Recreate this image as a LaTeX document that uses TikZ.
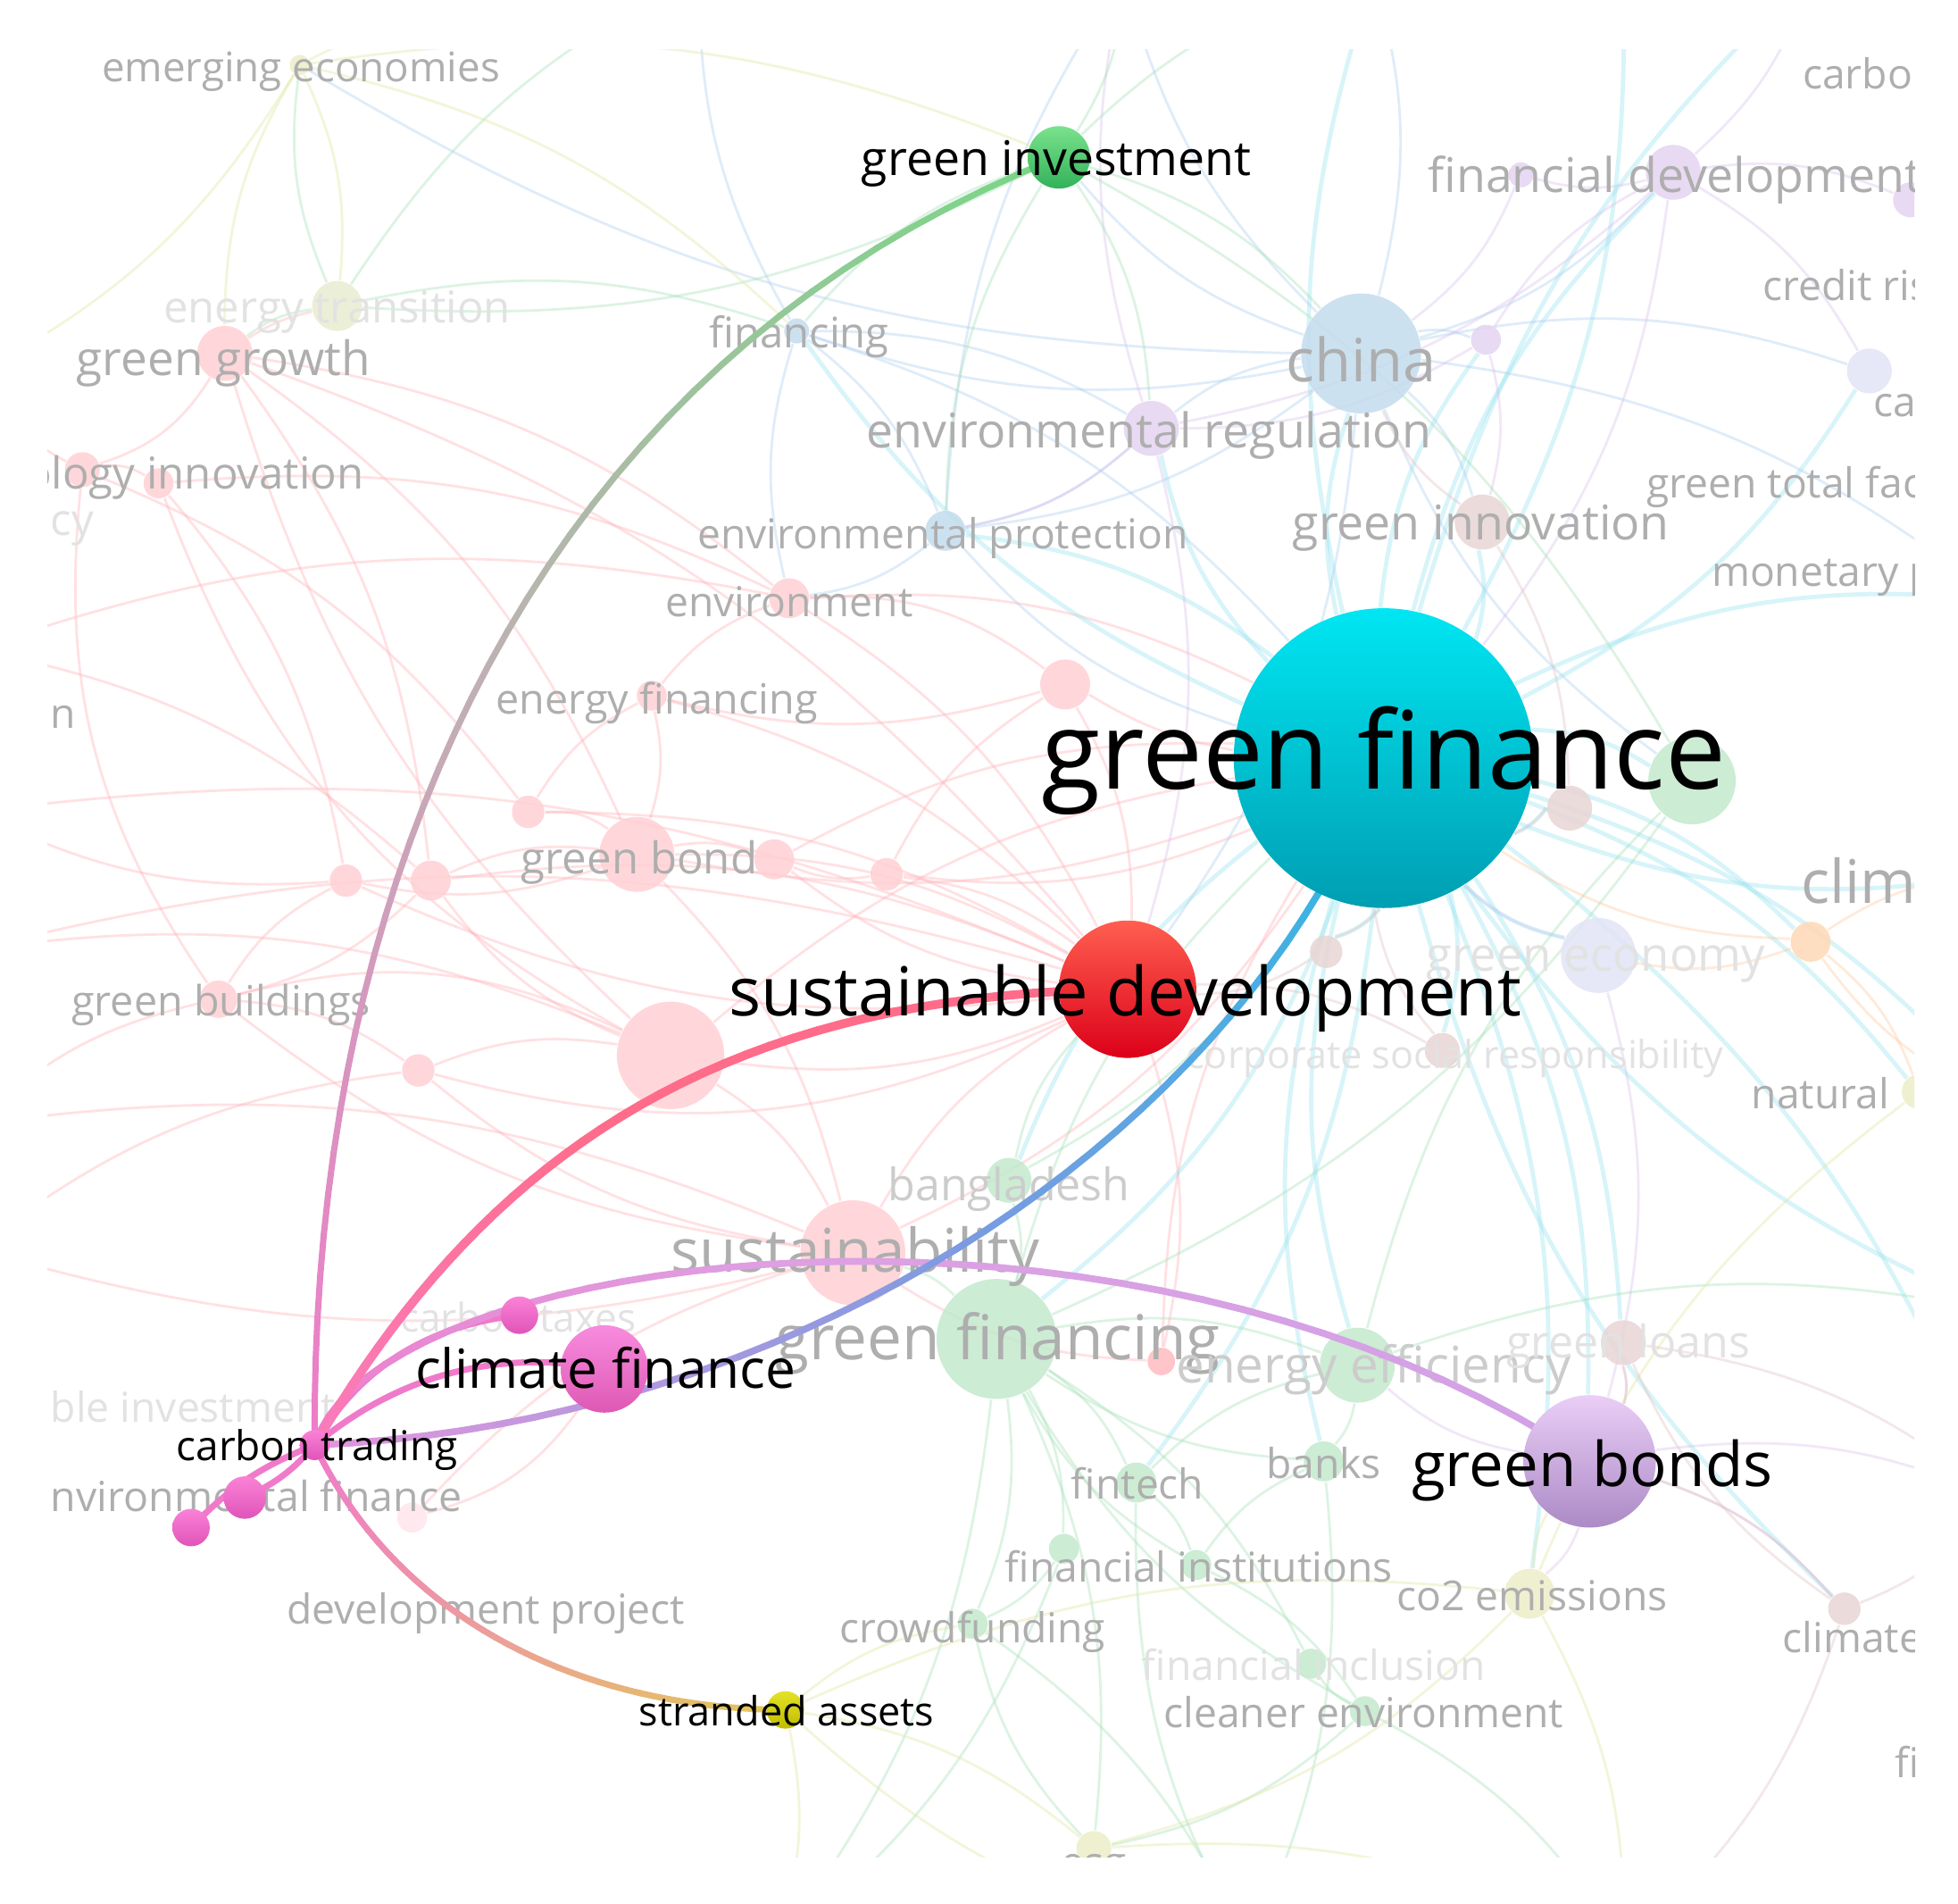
\documentclass[tikz,border=0pt]{standalone}
\usepackage{fontspec}
\setmainfont{Open Sans}
\pgfdeclarelayer{paper}
\pgfdeclarelayer{bgedge}
\pgfdeclarelayer{bgnode}
\pgfdeclarelayer{hledge}
\pgfsetlayers{paper,bgedge,bgnode,hledge,main}

\definecolor{labgray}{RGB}{174,174,174}
\definecolor{labmid}{RGB}{204,204,204}
\definecolor{labfaint}{RGB}{226,226,226}
\definecolor{nPink}{RGB}{255,208,212}
\definecolor{nPinkL}{RGB}{255,228,236}
\definecolor{nRed}{RGB}{255,188,192}
\definecolor{nBlue}{RGB}{196,220,238}
\definecolor{nPurp}{RGB}{228,212,240}
\definecolor{nGreen}{RGB}{196,233,205}
\definecolor{nYel}{RGB}{236,238,200}
\definecolor{nYG}{RGB}{232,237,208}
\definecolor{nBrown}{RGB}{232,213,213}
\definecolor{nOr}{RGB}{255,216,182}
\definecolor{nLav}{RGB}{226,228,246}
\definecolor{ePink}{RGB}{255,178,184}
\definecolor{eCyan}{RGB}{150,228,240}
\definecolor{eBlue}{RGB}{172,206,240}
\definecolor{ePurp}{RGB}{216,192,236}
\definecolor{eGreen}{RGB}{165,225,182}
\definecolor{eYel}{RGB}{226,230,160}
\definecolor{eBrown}{RGB}{226,192,192}
\definecolor{eOr}{RGB}{255,200,160}
\definecolor{hPink}{RGB}{240,122,202}
\definecolor{hPinkR}{RGB}{250,125,190}
\definecolor{hRose}{RGB}{255,108,138}
\definecolor{hGray}{RGB}{192,176,180}
\definecolor{hGreen}{RGB}{122,214,134}
\definecolor{hPinkL}{RGB}{230,150,220}
\definecolor{hBlue}{RGB}{122,155,225}
\definecolor{hCyan}{RGB}{42,186,226}
\definecolor{hLav}{RGB}{222,160,226}
\definecolor{hLav2}{RGB}{210,162,230}
\definecolor{hSalmon}{RGB}{236,160,152}
\definecolor{hGold}{RGB}{226,200,88}

\tikzset{
  bub/.style={circle, inner sep=0pt, minimum size=#1},
  lab/.style={text=labgray, inner sep=0pt, anchor=mid},
  labw/.style={lab, anchor=mid west},
  labe/.style={lab, anchor=mid east},
  faint/.style={text=labfaint},
  midf/.style={text=labmid},
  fs/.style={font={\fontsize{#1}{#1}\selectfont}},
  bge/.style={line width=0.2mm, draw opacity=0.38},
  cye/.style={line width=0.34mm, draw opacity=0.38},
  hl/.style={line width=0.5mm, line cap=round},
  hlab/.style={text=black, inner sep=0pt, anchor=mid},
}

\newcommand\clipframe{\clip (38,40) rectangle (1533,1487);}

% gradient curve: #1 from, #2 ctrl1, #3 ctrl2, #4 to, #5 #6 #7 colours, #8 width
\newcommand\gradcurve[8]{%
  \path (#1) .. controls #2 and #3 .. (#4)
    foreach \k [evaluate=\k as \tpos using \k/40] in {0,...,40} {coordinate[pos=\tpos] (gq\k)};
  \foreach \k in {1,...,40}{%
    \pgfmathtruncatemacro\kp{\k-1}%
    \ifnum\k<21
      \pgfmathtruncatemacro\pc{100-5*\k}%
      \colorlet{segc}{#5!\pc!#6}%
    \else
      \pgfmathtruncatemacro\pc{100-5*(\k-20)}%
      \colorlet{segc}{#6!\pc!#7}%
    \fi
    \draw[line width=#8, line cap=round, segc] (gq\kp) -- (gq\k);
  }%
}

\begin{document}
\begin{tikzpicture}[x=0.1mm, y=-0.1mm]
\useasboundingbox (0,0) rectangle (1568,1524);
\begin{pgfonlayer}{paper}
\fill[white] (0,0) rectangle (1568,1524);
\end{pgfonlayer}

% ---------- off-frame coordinates ----------
\coordinate (L1) at (-20,520);  \coordinate (L2) at (-20,650);
\coordinate (L3) at (-20,900);  \coordinate (L4) at (-20,1000);
\coordinate (L5) at (-20,300);  \coordinate (L6) at (-20,760);
\coordinate (R1) at (1600,480); \coordinate (R2) at (1600,700);
\coordinate (R3) at (1600,880); \coordinate (R4) at (1600,1050);
\coordinate (R5) at (1600,1200);
\coordinate (T1) at (560,-20);  \coordinate (T2) at (900,-20);
\coordinate (T3) at (1100,-20); \coordinate (T4) at (1300,-20);
\coordinate (T5) at (1450,-20);
\coordinate (B1) at (620,1560); \coordinate (B2) at (1000,1560);
\coordinate (B3) at (1300,1560);

% ---------- background nodes and labels ----------
\begin{pgfonlayer}{bgnode}
\begin{scope}
\clipframe
\begin{scope}[fill opacity=0.85]
\node[bub=1.6mm, fill=nYel]   (ee)   at (240,52)  {};
\node[bub=4mm,   fill=nYG]    (et)   at (270,245) {};
\node[bub=4.4mm, fill=nPink]  (gg)   at (180,283) {};
\node[bub=2mm,   fill=nBlue]  (fin)  at (638,265) {};
\node[bub=9.6mm, fill=nBlue]  (chn)  at (1090,283) {};
\node[bub=2.4mm, fill=nPurp]  (pp1)  at (1190,272) {};
\node[bub=4.4mm, fill=nPurp]  (fd)   at (1340,138) {};
\node[bub=2mm,   fill=nPurp]  (fd2)  at (1218,140) {};
\node[bub=2.8mm, fill=nPurp]  (fd3)  at (1530,160) {};
\node[bub=3.6mm, fill=nLav]   (crd)  at (1497,297) {};
\node[bub=4.4mm, fill=nPurp]  (er)   at (922,343) {};
\node[bub=2.8mm, fill=nPink]  (ti1)  at (66,376) {};
\node[bub=2.4mm, fill=nPink]  (ti2)  at (127,387) {};
\node[bub=3.2mm, fill=nBlue]  (ep)   at (757,425) {};
\node[bub=4.4mm, fill=nBrown] (ginn) at (1187,418) {};
\node[bub=3.2mm, fill=nPink]  (env)  at (632,479) {};
\node[bub=2.4mm, fill=nPink]  (enfi) at (522,557) {};
\node[bub=4mm,   fill=nPink]  (pk1)  at (853,548) {};
\node[bub=6mm,   fill=nPink]  (gb1)  at (510,684) {};
\node[bub=3.2mm, fill=nPink]  (gb2)  at (620,688) {};
\node[bub=2.6mm, fill=nPink]  (gb3)  at (423,650) {};
\node[bub=2.6mm, fill=nPink]  (gb4)  at (710,700) {};
\node[bub=3.2mm, fill=nPink]  (gb5)  at (345,705) {};
\node[bub=2.6mm, fill=nPink]  (gb6)  at (277,705) {};
\node[bub=7mm,   fill=nGreen] (gn)   at (1355,625) {};
\node[bub=3.6mm, fill=nBrown] (br1)  at (1257,647) {};
\node[bub=6mm,   fill=nLav]   (ge)   at (1280,765) {};
\node[bub=2.6mm, fill=nBrown] (br2)  at (1062,762) {};
\node[bub=3.2mm, fill=nOr]    (or1)  at (1450,754) {};
\node[bub=2.8mm, fill=nBrown] (csr)  at (1155,841) {};
\node[bub=2.8mm, fill=nYel]   (nat)  at (1537,874) {};
\node[bub=3mm,   fill=nPink]  (gbld) at (175,800) {};
\node[bub=8.6mm, fill=nPink]  (bp)   at (537,845) {};
\node[bub=2.6mm, fill=nPink]  (pk2)  at (335,857) {};
\node[bub=3.6mm, fill=nGreen] (bgd)  at (808,945) {};
\node[bub=8.4mm, fill=nPink]  (sus)  at (683,1003) {};
\node[bub=9.6mm, fill=nGreen] (gfg)  at (798,1072) {};
\node[bub=6mm,   fill=nGreen] (eef)  at (1087,1093) {};
\node[bub=2.2mm, fill=nRed]   (rd1)  at (930,1090) {};
\node[bub=3.6mm, fill=nBrown] (gl)   at (1300,1075) {};
\node[bub=2.4mm, fill=nPinkL] (enf3) at (330,1215) {};
\node[bub=3.2mm, fill=nGreen] (ft)   at (910,1187) {};
\node[bub=3.2mm, fill=nGreen] (bk)   at (1060,1170) {};
\node[bub=2.4mm, fill=nGreen] (fi1)  at (852,1240) {};
\node[bub=2.4mm, fill=nGreen] (fi2)  at (958,1253) {};
\node[bub=4mm,   fill=nYel]   (co2)  at (1225,1276) {};
\node[bub=2.6mm, fill=nBrown] (clm)  at (1477,1288) {};
\node[bub=2.4mm, fill=nGreen] (crf)  at (779,1300) {};
\node[bub=2.4mm, fill=nGreen] (fincl) at (1050,1332) {};
\node[bub=2.4mm, fill=nGreen] (ce)   at (1093,1370) {};
\node[bub=2.8mm, fill=nYel]   (esg)  at (876,1480) {};
\end{scope}

\node[lab, fs=9.3]  (t01) at (241,56)   {emerging economies};
\node[labw, fs=9.4] (t02) at (1443,62)  {carbo};
\node[labw, fs=10.9] (t03) at (1143,145) {financial development};
\node[labw, fs=9.4] (t04) at (1411,231) {credit ris};
\node[lab, faint, fs=10] (t05) at (270,249) {energy transition};
\node[lab, fs=10.8] (t06) at (179,291)  {green growth};
\node[lab, fs=9.6]  (t07) at (640,269)  {financing};
\node[lab, fs=13.6] (t08) at (1090,296) {china};
\node[labw, fs=9.4] (t09) at (1500,324) {ca};
\node[lab, fs=10.9] (t10) at (920,349)  {environmental regulation};
\node[labe, fs=10]  (t11) at (292,382)  {ology innovation};
\node[labw, faint, fs=10] (t12) at (40,419) {cy};
\node[labw, fs=9.4] (t13) at (1318,389) {green total fac};
\node[lab, fs=9.4]  (t14) at (755,430)  {environmental protection};
\node[lab, fs=10.9] (t15) at (1186,423) {green innovation};
\node[labw, fs=9.4] (t16) at (1370,460) {monetary p};
\node[lab, fs=9.4]  (t17) at (632,484)  {environment};
\node[labw, fs=9.4] (t18) at (40,574)   {n};
\node[lab, fs=9.5]  (t19) at (526,562)  {energy financing};
\node[lab, fs=10]   (t20) at (512,690)  {green bond};
\node[labw, fs=13.7] (t21) at (1442,714) {clim};
\node[lab, faint, fs=10.7] (t22) at (1278,768) {green economy};
\node[lab, faint, fs=8.8] (t23) at (1165,846) {corporate social responsibility};
\node[labw, fs=9.4] (t24) at (1402,878) {natural};
\node[lab, fs=9.5]  (t25) at (177,804)  {green buildings};
\node[lab, midf, fs=10.2] (t26) at (808,952) {bangladesh};
\node[lab, fs=13.7] (t27) at (685,1009) {sustainability};
\node[lab, fs=14.1] (t28) at (799,1079) {green financing};
\node[lab, midf, fs=11.5] (t29) at (1100,1098) {energy efficiency};
\node[lab, faint, fs=10.2] (t30) at (1304,1078) {green loans};
\node[lab, faint, fs=9] (t31) at (415,1057) {carbon taxes};
\node[labw, faint, fs=9.4] (t32) at (40,1129) {ble investment};
\node[labw, fs=9.45] (t33) at (40,1201) {nvironmental finance};
\node[lab, fs=9.4]  (t34) at (911,1191) {fintech};
\node[lab, fs=9.4]  (t35) at (1060,1174) {banks};
\node[lab, fs=9.4]  (t36) at (960,1257) {financial institutions};
\node[lab, fs=9.4]  (t37) at (1227,1280) {co2 emissions};
\node[labw, fs=9.4] (t38) at (1427,1314) {climate};
\node[lab, fs=9.4]  (t39) at (389,1291) {development project};
\node[lab, fs=9.4]  (t40) at (779,1306) {crowdfunding};
\node[lab, faint, fs=9.4] (t41) at (1052,1336) {financial inclusion};
\node[lab, fs=9.4]  (t42) at (1092,1374) {cleaner environment};
\node[labw, fs=9.4] (t43) at (1517,1414) {fi};
\node[lab, fs=9.4]  (t44) at (876,1493) {esg};
\end{scope}
\end{pgfonlayer}

% ---------- highlighted nodes and labels ----------
\begin{scope}
\clipframe
\node[bub=24mm, top color={rgb,255:red,0;green,230;blue,242}, bottom color={rgb,255:red,0;green,158;blue,178}] (gf) at (1108,607) {};
\node[bub=11mm, top color={rgb,255:red,255;green,95;blue,80}, bottom color={rgb,255:red,220;green,0;blue,25}] (sd) at (903,792) {};
\node[bub=5mm, top color={rgb,255:red,122;green,226;blue,140}, bottom color={rgb,255:red,50;green,178;blue,90}] (ginv) at (848,126) {};
\node[bub=7mm, top color={rgb,255:red,248;green,140;blue,222}, bottom color={rgb,255:red,222;green,88;blue,180}] (cf) at (484,1096) {};
\node[bub=10.6mm, top color={rgb,255:red,234;green,206;blue,246}, bottom color={rgb,255:red,172;green,138;blue,198}] (gbs) at (1273,1170) {};
\node[bub=3mm, top color={rgb,255:red,228;green,226;blue,40}, bottom color={rgb,255:red,192;green,188;blue,0}] (sa) at (629,1369) {};
\node[bub=3mm, top color={rgb,255:red,250;green,130;blue,215}, bottom color={rgb,255:red,224;green,84;blue,184}] (ctx) at (416,1053) {};
\node[bub=3.4mm, top color={rgb,255:red,250;green,130;blue,215}, bottom color={rgb,255:red,224;green,84;blue,184}] (en1) at (196,1199) {};
\node[bub=3mm, top color={rgb,255:red,250;green,130;blue,215}, bottom color={rgb,255:red,224;green,84;blue,184}] (en2) at (153,1223) {};
\node[bub=2.4mm, top color={rgb,255:red,250;green,130;blue,215}, bottom color={rgb,255:red,224;green,84;blue,184}] (ct) at (252,1157) {};

\node[hlab, fs=24.6] (lgf)   at (1108,622) {green finance};
\node[hlab, fs=15.4] (lsd)   at (901,804)  {sustainable development};
\node[hlab, fs=10.9] (lginv) at (846,131)  {green investment};
\node[hlab, fs=12.3] (lcf)   at (485,1102) {climate finance};
\node[hlab, fs=9.36] (lct)   at (254,1160) {carbon trading};
\node[hlab, fs=14.05] (lgbs) at (1275,1181) {green bonds};
\node[hlab, fs=9.16] (lsa)   at (630,1372) {stranded assets};
\end{scope}

% ---------- background edges ----------
\begin{pgfonlayer}{bgedge}
\begin{scope}
\clipframe
\foreach \a/\b/\c in {gg/env/15, gg/ti1/20, gg/gb5/15, gg/bp/-15, gg/et/10, ti1/ti2/20, ti2/gb6/15,
  ti1/gbld/-20, gbld/gb6/15, gbld/gb5/-15, gbld/pk2/15, gbld/bp/20, gb5/gb1/15, gb6/gb1/-15,
  gb3/gb1/20, gb3/enfi/15, gb1/gb2/15, gb2/gb4/-15, gb4/pk1/15, pk1/env/-20, enfi/env/15,
  enfi/pk1/-15, gb1/sd/15, gb2/sd/-15, gb4/sd/15, bp/sd/-15, bp/sus/15, pk2/sus/-15, pk2/bp/15,
  sus/sd/15, sus/gf/-15, bp/gf/15, pk1/gf/-10, env/gf/15, gb1/gf/-15, gb2/gf/15, gb5/sd/15,
  gb6/sd/-15, env/sd/15, sus/gb1/-15, enfi/sd/15, gbld/sus/-15, gg/sd/15, L1/gb5/15, L2/gb6/-15,
  L3/gbld/15, L4/pk2/15, L5/ti1/-15, L1/env/15, L2/sd/15, L3/sus/15, L6/bp/15, ti2/env/15,
  ti1/gb3/15, gb3/sd/15, pk2/sd/-20, rd1/sus/15, rd1/gf/15, rd1/sd/-15, enf3/sus/15, enf3/cf/-20,
  gg/gb1/15, pk1/sd/15, gb4/gf/-15, enfi/gb1/15, ti2/bp/-20, L4/sus/-15, L6/sd/15, bp/gb5/15}
  \draw[bge, ePink] (\a) to[bend left=\c] (\b);
\foreach \a/\b/\c in {gf/chn/15, gf/ginn/-15, gf/er/15, gf/ep/-15, gf/fin/15, gf/fd/15, gf/crd/-15,
  gf/pp1/15, gf/gn/15, gf/ge/-15, gf/or1/15, gf/nat/15, gf/clm/-15, gf/gl/15, gf/eef/-15,
  gf/gfg/15, gf/bk/-15, gf/ft/15, gf/co2/15, gf/bgd/-15, gf/csr/15, gf/br2/15, gf/br1/-15,
  gf/R1/15, gf/R2/-15, gf/R3/15, gf/R4/-15, gf/T3/15, gf/T4/-15, gf/T5/15, gf/gbs/15, gf/R5/15}
  \draw[cye, eCyan] (\a) to[bend left=\c] (\b);
\foreach \a/\b/\c in {chn/fin/15, chn/er/-15, chn/ep/15, chn/ginn/15, chn/fd/-15, chn/pp1/15,
  chn/crd/15, chn/ee/15, chn/gn/-15, chn/sd/15, fin/ep/15, fin/env/-15, fin/er/15, ep/env/15,
  ep/er/-15, chn/T2/15, chn/T3/-15, fin/T1/15, ep/T2/15, chn/R1/15, fin/gf/15, ep/gf/-15,
  chn/ginv/15}
  \draw[bge, eBlue] (\a) to[bend left=\c] (\b);
\foreach \a/\b/\c in {fd/fd2/15, fd/pp1/-15, fd/er/15, fd/fd3/15, er/pp1/-15, fd/crd/15,
  pp1/ginn/15, er/T2/15, fd/T5/-15, fd3/R1/15, er/ep/15, fd2/chn/15, er/sd/15, fd/gf/15,
  gbs/clm/15, gbs/gl/-15, gbs/co2/15, gbs/R5/15, gbs/ge/-15, gbs/eef/15, ge/gf/15}
  \draw[bge, ePurp] (\a) to[bend left=\c] (\b);
\foreach \a/\b/\c in {gfg/eef/15, gfg/bgd/-15, gfg/ft/15, gfg/bk/-15, gfg/fi1/15, gfg/fi2/-15,
  gfg/crf/15, gfg/ce/-15, gfg/fincl/15, eef/bk/15, eef/ft/-15, ft/fi2/15, bk/fi2/-15, fi1/crf/15,
  fi2/ce/15, fincl/ce/-15, bgd/sd/15, gfg/sus/-15, eef/gn/15, gfg/gn/-15, gfg/esg/15,
  crf/esg/-15, ce/esg/15, ginv/et/15, ginv/fin/-15, ginv/chn/15, ginv/gn/15, et/ee/15,
  et/gg/-15, et/T1/15, ginv/T2/-15, ginv/T3/15, gfg/B1/15, ft/B2/-15, bk/B2/15, ce/B3/15,
  eef/R4/15, gfg/gf/15, bgd/gf/-15, fi1/B1/15, crf/B2/15, ginv/er/15, ginv/ep/-15, et/fin/15}
  \draw[bge, eGreen] (\a) to[bend left=\c] (\b);
\foreach \a/\b/\c in {co2/esg/15, co2/sa/-15, sa/esg/15, sa/crf/15, ee/et/15, ee/gg/-15,
  ee/T1/15, co2/nat/15, sa/B1/15, sa/B2/-15, esg/B3/15, co2/B3/15, ee/fin/15, ee/ginv/15,
  ee/L5/15, co2/gbs/15}
  \draw[bge, eYel] (\a) to[bend left=\c] (\b);
\foreach \a/\b/\c in {ginn/br1/15, br1/gf/15, br2/gf/-15, csr/gf/15, gl/gbs/15, clm/gbs/-15,
  clm/gl/15, br2/sd/15, ginn/chn/15, csr/sd/-15, gl/R5/15, clm/R5/-15, clm/B3/15}
  \draw[bge, eBrown] (\a) to[bend left=\c] (\b);
\foreach \a/\b/\c in {or1/gf/15, or1/R2/15, or1/R3/-15, or1/nat/15, or1/ge/15}
  \draw[bge, eOr] (\a) to[bend left=\c] (\b);
\end{scope}
\end{pgfonlayer}

% ---------- highlighted edges (from carbon trading) ----------
\begin{pgfonlayer}{hledge}
\begin{scope}
\clipframe
\draw[hl, hPink] (ct.center) to[bend left=12] (en1.center);
\draw[hl, hPink] (ct.center) to[bend right=12] (en2.center);
\draw[hl, hPink] (ct.center) .. controls (290,1090) and (350,1060) .. (ctx.center);
\draw[hl, hPink] (ct.center) .. controls (320,1100) and (400,1080) .. (cf.center);
\gradcurve{ct.center}{(320,1300)}{(470,1368)}{sa.center}{hPink}{hSalmon}{hGold}{0.5mm}
\gradcurve{ct.center}{(300,1000)}{(900,920)}{gbs.center}{hPink}{hLav}{hLav2}{0.55mm}
\gradcurve{ct.center}{(650,1140)}{(1000,900)}{gf.center}{hPinkL}{hBlue}{hCyan}{0.55mm}
\gradcurve{ct.center}{(380,940)}{(560,795)}{sd.center}{hPinkR}{hRose}{hRose}{0.7mm}
\gradcurve{ct.center}{(248,700)}{(430,290)}{ginv.center}{hPink}{hGray}{hGreen}{0.5mm}
\end{scope}
\end{pgfonlayer}
\end{tikzpicture}
\end{document}
